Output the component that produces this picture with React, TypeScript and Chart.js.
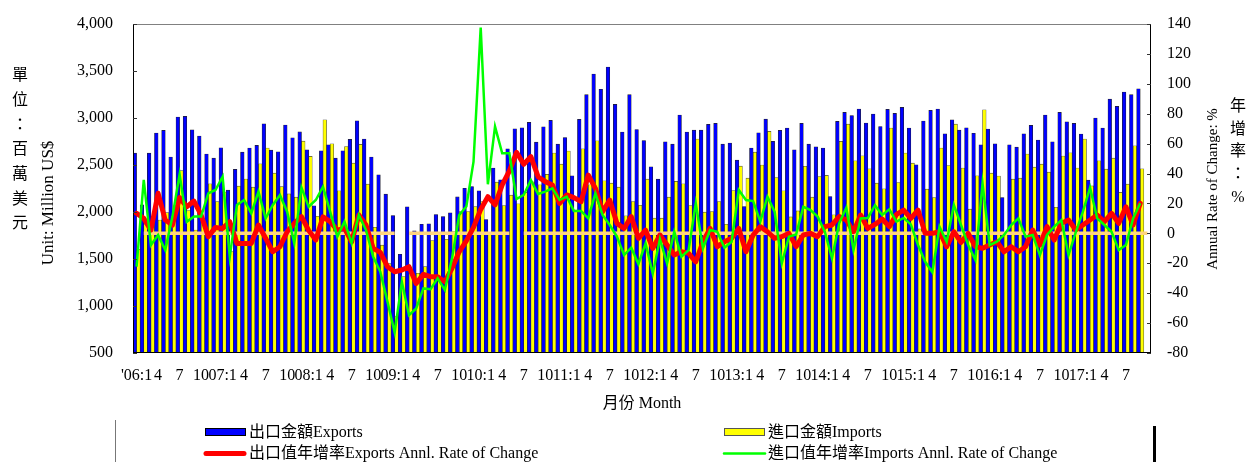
import React, { useEffect, useRef } from 'react';
import { Chart, registerables } from 'chart.js';

Chart.register(...registerables);

// ---------- data ----------
const years = ['2006', '2007', '2008', '2009', '2010', '2011', '2012', '2013', '2014', '2015', '2016', '2017'];
const monthsPerYear = [1, 2, 3, 4, 5, 6, 7, 8, 9, 10, 11, 12];
const slotCount = 142; // Jan 2006 .. Oct 2017 (last slot empty)

const quarterLabels = [
  "'06:1", '4', '7', '10', '07:1', '4', '7', '10', '08:1', '4', '7', '10',
  '09:1', '4', '7', '10', '10:1', '4', '7', '10', '11:1', '4', '7', '10',
  '12:1', '4', '7', '10', '13:1', '4', '7', '10', '14:1', '4', '7', '10',
  '15:1', '4', '7', '10', '16:1', '4', '7', '10', '17:1', '4', '7', '',
];

const exportsValues = [
  2626, 2076, 2626, 2840, 2868, 2584, 3010, 3017, 2875, 2808, 2616, 2573,
  2683, 2232, 2453, 2637, 2680, 2708, 2939, 2658, 2641, 2925, 2790, 2852,
  2662, 2066, 2651, 2715, 2573, 2651, 2772, 2971, 2776, 2584, 2396, 2190,
  1963, 1551, 2055, 1799, 1870, 1874, 1973, 1952, 1991, 2161, 2252, 2271,
  2225, 1920, 2467, 2342, 2673, 2886, 2896, 2953, 2743, 2907, 2974, 2722,
  2793, 2385, 2985, 3248, 3468, 3305, 3542, 3145, 2850, 3248, 2878, 2761,
  2481, 2349, 2747, 2722, 3031, 2850, 2871, 2871, 2932, 2942, 2722, 2733,
  2552, 2058, 2680, 2843, 2988, 2751, 2868, 2893, 2662, 2942, 2722, 2694,
  2680, 2165, 2964, 3059, 3027, 3095, 2946, 3042, 2910, 3091, 3049, 3113,
  2893, 2502, 2967, 3081, 3095, 2832, 2981, 2871, 2896, 2837, 2715, 2882,
  2726, 2154, 2715, 2690, 2832, 2921, 2765, 3031, 2747, 3059, 2960, 2942,
  2829, 2339, 2999, 2893, 3201, 3123, 3276, 3248, 3311,
];

const importsValues = [
  1604, 1872, 1910, 1915, 1993, 1965, 2440, 2015, 1808, 1930, 2300, 2110,
  2212, 1580, 2275, 2350, 2264, 2513, 2680, 2413, 2270, 2193, 2158, 2754,
  2591, 1955, 2981, 2726, 2225, 2697, 2520, 2719, 2296, 1838, 1647, 1450,
  887, 1313, 1348, 1348, 1419, 1696, 1757, 1710, 1792, 2005, 2005, 2058,
  2112, 1757, 2318, 2069, 2179, 2087, 2208, 2320, 2289, 2400, 2627, 2509,
  2648, 2020, 2673, 2289, 2758, 2332, 2307, 2264, 1959, 2112, 2072, 2349,
  1934, 1934, 2158, 2325, 2300, 2069, 2776, 1998, 2005, 2112, 1870, 2229,
  2488, 2360, 2637, 2499, 2857, 2367, 2225, 1948, 2012, 2486, 2158, 2378,
  2389, 1970, 2751, 2935, 2545, 2598, 2460, 2307, 2247, 2893, 2314, 2627,
  2520, 1820, 2243, 2154, 2680, 2495, 2935, 2467, 2030, 2385, 3088, 2413,
  2382, 1780, 2349, 2360, 2616, 2477, 2509, 2424, 2051, 2595, 2630, 2467,
  2776, 2278, 2545, 2456, 2573, 2208, 2296, 2705, 2460,
];

const exportsRate = [
  13.4, 10, 2.2, 26.8, 8.9, 5.6, 23.9, 17.8, 21.6, 12.3, -2.2, 4,
  3.3, 7.8, -6.7, -6.7, -6.7, 5.6, -3.3, -12.3, -8.9, 1.1, 6.7, 11.2,
  2, -4.5, 11, 7.8, 2.2, 3.3, -5.6, 12.3, 5.6, -10, -12.7, -22.3,
  -25.7, -24.5, -22.3, -33.5, -27.4, -29, -29, -32.4, -23.4, -12.3, -5, 4,
  16, 24.5, 19, 32.4, 41.7, 54.2, 46.2, 51.3, 37.9, 34.6, 32.4, 20.1,
  25.7, 23.9, 21.2, 39, 30.1, 14.5, 22.3, 6.7, 3.3, 11.2, -3.3, 2.2,
  -10, -1.1, -7.8, -14.5, -12.3, -13.4, -19, -5.6, 3.3, -8.9, -5.6, -3.3,
  3.3, -12.3, -1.1, 4.5, 1.1, -3.3, -2.2, 0, -8.9, -1.1, 0, -2.2,
  4.5, 5.6, 11.2, 8.9, 1.1, 12.3, 3.3, 6, 9.6, 4.5, 12.7, 15.6,
  10, 15.6, 0, 0, 1.1, -8.9, 1.1, -6, 0, -8.9, -10, -7.8,
  -5.6, -12.3, -8.9, -12.3, -8.9, 2.2, -7.8, 4.5, -4.5, 6.7, 8.9, 2.2,
  5.6, 8.9, 12.3, 7.8, 13.4, 6.7, 17.8, 5.6, 20.1,
];

const importsRate = [
  -22.3, 35.7, -7.8, -1.1, -11.2, 11.2, 39.5, 7.8, 11.2, 11.2, 26.8, 29,
  37.9, -15.6, 19, 22.3, 13.4, 27.9, 10, 19, 25.7, 14.5, -6.7, 30.6,
  17.8, 22.3, 31.2, 14.5, -2.2, 7.8, -6.7, 12.3, 2.2, -15.6, -25.7, -45.7,
  -66.3, -32.4, -54.7, -50.2, -36.8, -37.3, -30.1, -37.9, -16.7, 12.3, 18, 48,
  137.6, 32.8, 71.4, 53.5, 53.5, 23, 25.7, 35.7, 26.3, 27.9, 30.1, 22.3,
  24.5, 15, 15, 10, 26.8, 12.3, 5.6, -2.2, -14.5, -9.6, -20.5, -6.7,
  -26.8, -3.8, -20, 1.1, -15.6, -11.2, 20.1, -10, 2.2, 1.1, -9.6, -5.6,
  29, 22.3, 21.6, 7.8, 24.5, 14.5, -20, -2.2, -0.7, 17.8, 15.6, 11.2,
  1.1, -16.7, 6.7, 17.1, -11.2, 10, 10.3, 18.7, 12.3, 16.1, 7.8, 10.3,
  6, -7.8, -19, -26, 4.5, -5.6, 19, 5.6, -7.8, -17.8, 33.5, -7.8,
  -5.6, -1.1, 5.6, 10, -2.2, -1.1, -14.5, -1.1, 4.5, 8.9, -14.5, 0.7,
  14.5, 30.6, 10, 5.6, 1.1, -11.2, -7.8, 10, 20.1,
];

// zero reference line (right axis); it has breaks at these slots
const zeroLineGaps = [0, 37, 53];

const seriesNames = [
  '出口金額Exports',
  '進口金額Imports',
  '出口值年增率Exports Annl. Rate of Change',
  '進口值年增率Imports Annl. Rate of Change',
];
const leftTitleZh = ['單', '位', '：', '百', '萬', '美', '元'];
const rightTitleZh = ['年', '增', '率', '：', '%'];
const leftTitleEn = 'Unit: Million US$';
const rightTitleEn = 'Annual Rate of Change: %';
const xTitle = '月份 Month';

// ---------- styling ----------
const SERIF = '"Liberation Serif", "Times New Roman", "Noto Sans CJK TC", serif';
const BLUE = '#0000FF';
const YELLOW = '#FFFF00';
const RED = '#FF0000';
const GREEN = '#00FF00';
const ZERO = '#FFD47F';

const categories: string[] = [];
years.forEach((y) => monthsPerYear.forEach((m) => categories.push(`${y}-${m}`)));
const xCategories = categories.slice(0, slotCount);
const zeroLine = xCategories.map((_, i) => (zeroLineGaps.includes(i) ? null : 0));

const decorations = {
  id: 'decorations',
  afterDraw(chart: any) {
    const { ctx, chartArea: a, scales } = chart;
    const yL = scales.y;
    const yR = scales.y1;
    ctx.save();
    // frame
    ctx.lineWidth = 1;
    ctx.strokeStyle = '#808080';
    ctx.beginPath();
    ctx.moveTo(a.left, a.top + 0.5);
    ctx.lineTo(a.right, a.top + 0.5);
    ctx.stroke();
    ctx.strokeStyle = '#000';
    ctx.beginPath();
    ctx.moveTo(a.left + 0.5, a.top);
    ctx.lineTo(a.left + 0.5, a.bottom);
    ctx.moveTo(a.right - 0.5, a.top);
    ctx.lineTo(a.right - 0.5, a.bottom);
    ctx.moveTo(a.left, a.bottom - 0.5);
    ctx.lineTo(a.right, a.bottom - 0.5);
    ctx.stroke();
    // inward ticks
    ctx.strokeStyle = '#333';
    ctx.beginPath();
    yL.ticks.forEach((t: any) => {
      const y = Math.round(yL.getPixelForValue(t.value)) + 0.5;
      ctx.moveTo(a.left, y);
      ctx.lineTo(a.left + 4, y);
    });
    yR.ticks.forEach((t: any) => {
      const y = Math.round(yR.getPixelForValue(t.value)) + 0.5;
      ctx.moveTo(a.right - 4, y);
      ctx.lineTo(a.right, y);
    });
    ctx.stroke();

    ctx.fillStyle = '#000';
    ctx.font = `16px ${SERIF}`;
    ctx.textAlign = 'center';
    ctx.textBaseline = 'middle';
    // left stacked Chinese title
    leftTitleZh.forEach((c, i) => ctx.fillText(c, 20, 76 + i * 24.7));
    // right stacked Chinese title
    rightTitleZh.forEach((c, i) => ctx.fillText(c, 1238, 107 + i * 22.6));
    // rotated English titles
    ctx.save();
    ctx.font = `17px ${SERIF}`;
    ctx.translate(49, 203);
    ctx.rotate(-Math.PI / 2);
    ctx.fillText(leftTitleEn, 0, 0);
    ctx.restore();
    ctx.save();
    ctx.font = `15px ${SERIF}`;
    ctx.translate(1213, 189);
    ctx.rotate(-Math.PI / 2);
    ctx.fillText(rightTitleEn, 0, 0);
    ctx.restore();
    // x title
    ctx.fillText(xTitle, 642, 404);

    // legend frame
    ctx.strokeStyle = '#777';
    ctx.lineWidth = 1;
    ctx.beginPath();
    ctx.moveTo(115.5, 420);
    ctx.lineTo(115.5, 462);
    ctx.stroke();
    ctx.fillStyle = '#000';
    ctx.fillRect(1153, 426, 3, 36);

    // legend entries
    ctx.textAlign = 'left';
    ctx.fillStyle = BLUE;
    ctx.fillRect(205, 428, 41, 8);
    ctx.strokeStyle = '#000';
    ctx.strokeRect(205.5, 428.5, 40, 7);
    ctx.fillStyle = YELLOW;
    ctx.fillRect(724, 428, 41, 8);
    ctx.strokeStyle = '#555';
    ctx.strokeRect(724.5, 428.5, 40, 7);
    ctx.lineCap = 'round';
    ctx.strokeStyle = RED;
    ctx.lineWidth = 5;
    ctx.beginPath();
    ctx.moveTo(206, 453.5);
    ctx.lineTo(244, 453.5);
    ctx.stroke();
    ctx.strokeStyle = GREEN;
    ctx.lineWidth = 2.5;
    ctx.beginPath();
    ctx.moveTo(724, 453.5);
    ctx.lineTo(765, 453.5);
    ctx.stroke();
    ctx.fillStyle = '#000';
    ctx.fillText(seriesNames[0], 249, 433);
    ctx.fillText(seriesNames[1], 768, 433);
    ctx.fillText(seriesNames[2], 249, 454);
    ctx.fillText(seriesNames[3], 768, 454);
    ctx.restore();
  },
};

export default function App() {
  const canvasRef = useRef<HTMLCanvasElement | null>(null);

  useEffect(() => {
    document.body.style.margin = '0';
    const canvas = canvasRef.current;
    if (!canvas) return;
    const font = { family: SERIF, size: 16 };
    const fixVertical = (w: number) => (s: any) => {
      s.width = w;
      s.paddingTop = 8;
      s.paddingBottom = 8;
    };
    const chart = new Chart(canvas, {
      type: 'bar',
      data: {
        labels: xCategories,
        datasets: [
          {
            type: 'bar',
            label: seriesNames[0],
            data: exportsValues,
            backgroundColor: BLUE,
            borderColor: '#222',
            borderWidth: 0.6,
            yAxisID: 'y',
            order: 3,
            categoryPercentage: 1,
            barPercentage: 1,
          },
          {
            type: 'bar',
            label: seriesNames[1],
            data: importsValues,
            backgroundColor: YELLOW,
            borderColor: '#444',
            borderWidth: 0.6,
            yAxisID: 'y',
            order: 4,
            categoryPercentage: 1,
            barPercentage: 1,
          },
          {
            type: 'line',
            label: 'zero',
            data: zeroLine,
            borderColor: ZERO,
            borderWidth: 3.5,
            pointRadius: 0,
            spanGaps: false,
            yAxisID: 'y1',
            order: 2,
          },
          {
            type: 'line',
            label: seriesNames[2],
            data: exportsRate,
            borderColor: RED,
            borderWidth: 5,
            borderJoinStyle: 'round',
            borderCapStyle: 'round',
            pointRadius: 0,
            tension: 0,
            yAxisID: 'y1',
            order: 1,
          },
          {
            type: 'line',
            label: seriesNames[3],
            data: importsRate,
            borderColor: GREEN,
            borderWidth: 2.5,
            pointRadius: 0,
            tension: 0,
            yAxisID: 'y1',
            order: 0,
          },
        ] as any,
      },
      options: {
        responsive: false,
        animation: false,
        devicePixelRatio: 1,
        layout: { padding: { top: 24, left: 0, right: 0, bottom: 0 } },
        plugins: { legend: { display: false }, tooltip: { enabled: false } },
        scales: {
          x: {
            type: 'category',
            offset: true,
            grid: { display: false, drawTicks: false },
            border: { display: false },
            ticks: {
              autoSkip: false,
              maxRotation: 0,
              minRotation: 0,
              padding: 13,
              color: '#000',
              font,
              callback: (_v: any, i: number) => (i % 3 === 0 ? quarterLabels[i / 3] : ''),
            },
            afterFit: (s: any) => {
              s.height = 109;
            },
          },
          y: {
            position: 'left',
            min: 500,
            max: 4000,
            grid: { display: false, drawTicks: false },
            border: { display: false },
            ticks: {
              stepSize: 500,
              padding: 20,
              color: '#000',
              font,
              callback: (v: any) => Number(v).toLocaleString('en-US'),
            },
            afterFit: fixVertical(133),
          },
          y1: {
            position: 'right',
            min: -80,
            max: 140,
            grid: { display: false, drawTicks: false },
            border: { display: false },
            ticks: { stepSize: 20, padding: 16, color: '#000', font },
            afterFit: fixVertical(97),
          },
        },
      } as any,
      plugins: [decorations],
    });
    return () => chart.destroy();
  }, []);

  return (
    <div style={{ position: 'fixed', left: 0, top: 0, width: 1248, height: 462, background: '#fff' }}>
      <canvas ref={canvasRef} width={1248} height={462} style={{ width: 1248, height: 462, display: 'block' }} />
    </div>
  );
}
